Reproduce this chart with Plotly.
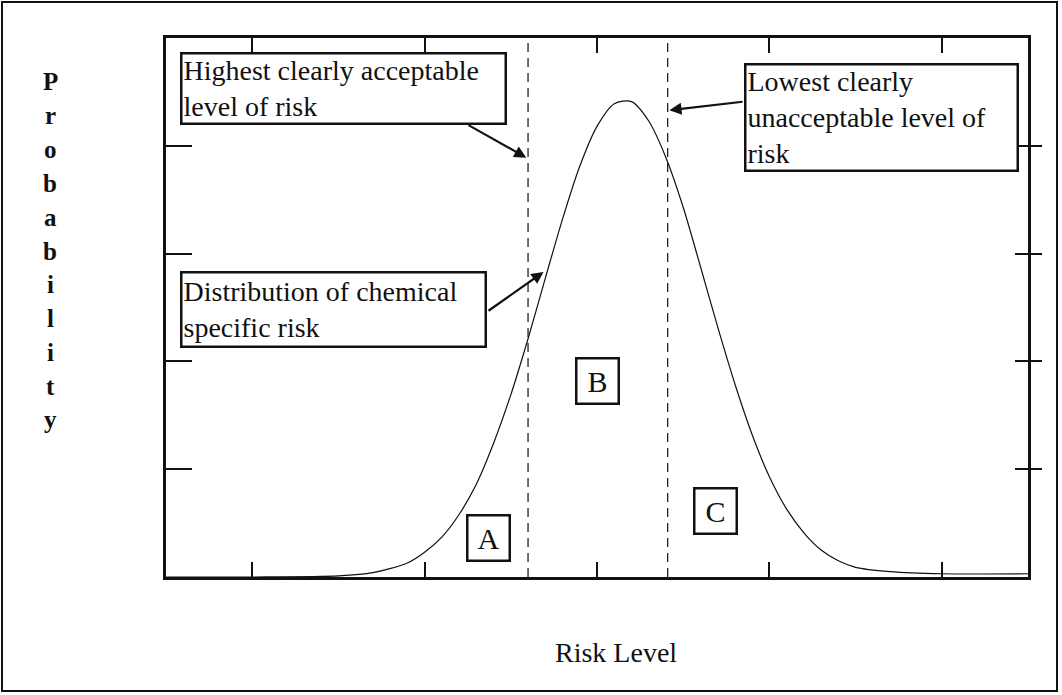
import plotly.graph_objects as go

# Risk-level distribution curve (x: risk level, y: probability density)
risk_x = [0.0, 0.5, 1.0, 1.2, 1.4, 1.5, 1.6, 1.7, 1.8, 1.9, 2.0, 2.1, 2.2, 2.3, 2.4,
          2.5, 2.6, 2.7, 2.8, 2.9, 3.0, 3.1, 3.2, 3.3, 3.4, 3.5, 3.6, 3.7, 3.8, 3.9,
          4.0, 4.2, 4.5, 5.0]
prob_y = [0.0, 0.0, 0.01, 0.04, 0.13, 0.23, 0.37, 0.58, 0.86, 1.24, 1.69, 2.21, 2.77,
          3.32, 3.81, 4.18, 4.39, 4.41, 4.23, 3.89, 3.43, 2.88, 2.32, 1.79, 1.32, 0.93,
          0.63, 0.41, 0.25, 0.15, 0.09, 0.05, 0.03, 0.03]

# Acceptability thresholds on the risk axis
threshold_x = [2.10, 2.91]

# Region labels and their positions
region_labels = ["A", "B", "C"]
region_x = [1.87, 2.50, 3.19]
region_y = [0.36, 1.82, 0.61]

x_ticks = [0.5, 1.5, 2.5, 3.5, 4.5]
y_ticks = [1, 2, 3, 4]

X_RANGE = [0, 5]
Y_RANGE = [0, 5]

y_title = "Probability"
x_title = "Risk Level"

FONT = "Liberation Serif, Times New Roman, serif"
INK = "#111111"

# plot-area geometry in pixels
L, R, T, B = 166, 1028, 38, 577
W, H = R - L, B - T


def px_x(p):
    return (p - L) / W


def px_y(p):
    return (B - p) / H


fig = go.Figure()

fig.add_trace(go.Scatter(
    x=risk_x, y=prob_y, mode="lines",
    line=dict(color=INK, width=1.2, shape="spline", smoothing=0.8),
    hoverinfo="skip", showlegend=False,
))

for tx in threshold_x:
    fig.add_trace(go.Scatter(
        x=[tx, tx], y=Y_RANGE, mode="lines",
        line=dict(color=INK, width=1.2, dash="9px,6px"),
        hoverinfo="skip", showlegend=False,
    ))

annotations = []

# Region letter boxes
for lab, lx, ly in zip(region_labels, region_x, region_y):
    annotations.append(dict(
        x=lx, y=ly, xref="x", yref="y", text=lab, showarrow=False,
        xanchor="center", yanchor="middle",
        font=dict(family=FONT, size=30, color=INK),
        bordercolor=INK, borderwidth=2.5, borderpad=2,
        width=36, height=39, bgcolor="white",
    ))

# Call-out text boxes
callouts = [
    ("Highest clearly acceptable<br>level of risk", 0.081, 4.87, 320, 66),
    ("Lowest clearly<br>unacceptable level of<br>risk", 3.353, 4.77, 268, 102),
    ("Distribution of chemical<br>specific risk", 0.081, 2.84, 300, 70),
]
for txt, bx, by, w, h in callouts:
    annotations.append(dict(
        x=bx, y=by, xref="x", yref="y", xanchor="left", yanchor="top",
        text=txt, showarrow=False, align="left", valign="middle",
        font=dict(family=FONT, size=28, color=INK),
        bordercolor=INK, borderwidth=2.5, borderpad=1,
        width=w, height=h, bgcolor="white",
    ))

# Arrows from call-outs to the features they describe
arrows = [
    (2.09, 3.89, 1.746, 4.20),
    (2.92, 4.33, 3.353, 4.41),
    (2.19, 2.83, 1.862, 2.46),
]
for tx, ty, sx, sy in arrows:
    annotations.append(dict(
        x=tx, y=ty, ax=sx, ay=sy, xref="x", yref="y", axref="x", ayref="y",
        text="", showarrow=True, arrowhead=2, arrowsize=1.1, arrowwidth=2.2,
        arrowcolor=INK, standoff=0,
    ))

# Axis titles
annotations.append(dict(
    x=px_x(616), y=px_y(652), xref="paper", yref="paper",
    xanchor="center", yanchor="middle",
    text=x_title, showarrow=False,
    font=dict(family=FONT, size=28, color=INK),
))
# Vertical title: one letter per row
for i, ch in enumerate(y_title):
    annotations.append(dict(
        x=px_x(50), y=px_y(82 + 33.8 * i), xref="paper", yref="paper",
        xanchor="center", yanchor="middle",
        text=f"<b>{ch}</b>", showarrow=False,
        font=dict(family=FONT, size=25, color=INK),
    ))

axis_common = dict(showgrid=False, zeroline=False, showticklabels=False)

fig.update_layout(
    width=1062, height=695,
    margin=dict(l=L, r=1062 - R, t=T, b=695 - B),
    paper_bgcolor="white", plot_bgcolor="white",
    showlegend=False,
    xaxis=dict(range=X_RANGE, tickvals=x_ticks, ticks="inside", ticklen=15,
               tickwidth=2, tickcolor=INK, showline=True, linewidth=2.5,
               linecolor=INK, mirror="ticks", **axis_common),
    yaxis=dict(range=Y_RANGE, tickvals=y_ticks, ticks="inside", ticklen=26,
               tickwidth=2, tickcolor=INK, showline=True, linewidth=2.5,
               linecolor=INK, mirror=True, **axis_common),
    yaxis2=dict(range=Y_RANGE, tickvals=y_ticks, ticks="outside", ticklen=13,
                tickwidth=2, tickcolor=INK, overlaying="y", side="right",
                showline=False, **axis_common),
    yaxis3=dict(range=Y_RANGE, tickvals=y_ticks, ticks="inside", ticklen=13,
                tickwidth=2, tickcolor=INK, overlaying="y", side="right",
                showline=False, **axis_common),
    annotations=annotations,
    shapes=[dict(
        type="rect", xref="paper", yref="paper",
        x0=px_x(2), x1=px_x(1057), y0=px_y(691), y1=px_y(2),
        line=dict(color=INK, width=2), fillcolor="rgba(0,0,0,0)", layer="below",
    )],
)

# Empty traces so the right-hand tick axes are rendered
fig.add_trace(go.Scatter(x=[None], y=[None], yaxis="y2", showlegend=False))
fig.add_trace(go.Scatter(x=[None], y=[None], yaxis="y3", showlegend=False))

fig.write_html("out.html")
